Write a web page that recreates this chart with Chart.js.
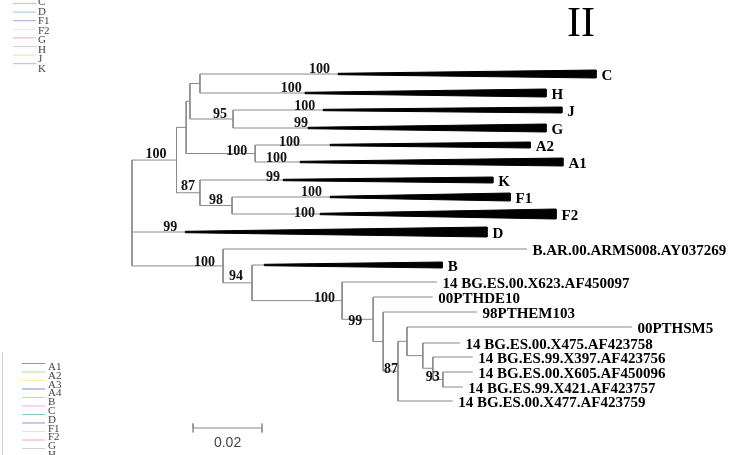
<!DOCTYPE html>
<html>
<head>
<meta charset="utf-8">
<script src="https://cdn.jsdelivr.net/npm/chart.js@4.4.1/dist/chart.umd.min.js"></script>
<style>
  html, body { margin: 0; padding: 0; background: #fff; }
  canvas { display: block; }
</style>
</head>
<body>
<canvas id="tree" width="740" height="455"></canvas>
<script>
// tips, top to bottom
const tipNames = [
  "C", "H", "J", "G", "A2", "A1", "K", "F1", "F2", "D",
  "B.AR.00.ARMS008.AY037269", "B",
  "14 BG.ES.00.X623.AF450097", "00PTHDE10", "98PTHEM103", "00PTHSM5",
  "14 BG.ES.00.X475.AF423758", "14 BG.ES.99.X397.AF423756",
  "14 BG.ES.00.X605.AF450096", "14 BG.ES.99.X421.AF423757",
  "14 BG.ES.00.X477.AF423759",
];
const tipDepth = [
  0.1345, 0.1200, 0.1246, 0.1200, 0.1154, 0.1249, 0.1046, 0.1096, 0.1229, 0.1029,
  0.1145, 0.0899,
  0.0884, 0.0872, 0.1000, 0.1449,
  0.0951, 0.0988, 0.0988, 0.0959, 0.0930,
];
// where the collapsed clade wedge begins (null = single sequence)
const wedgeStart = [
  0.0597, 0.0501, 0.0554, 0.0510, 0.0574, 0.0487, 0.0438, 0.0574, 0.0545, 0.0154,
  null, 0.0383,
  null, null, null, null, null, null, null, null, null,
];
const tipRow = [74, 93, 110, 128, 145, 162, 180, 197, 214, 232, 249, 265, 282, 297, 312, 327, 343, 357, 372, 387, 401];
const tipSupport = [100, 100, 100, 99, 100, 100, 99, 100, 100, 99, null, null, null, null, null, null, null, null, null, null, null];

// internal nodes
const nodeNames = ["R", "U", "P", "Q", "CH", "JG", "A", "KF", "F", "L", "BB", "N1", "N2", "N3", "N4", "N5", "N6", "N7", "N8"];
const nodeDepth = [0, 0.0129, 0.0157, 0.0168, 0.0197, 0.0293, 0.0357, 0.0197, 0.0290, 0.0264, 0.0348, 0.0609, 0.0699, 0.0728, 0.0771, 0.0797, 0.0843, 0.0872, 0.0901];
const nodeChildren = [
  ["U", "D", "L"],
  ["P", "KF"],
  ["Q", "A"],
  ["CH", "JG"],
  ["C", "H"],
  ["J", "G"],
  ["A2", "A1"],
  ["K", "F"],
  ["F1", "F2"],
  ["B.AR.00.ARMS008.AY037269", "BB"],
  ["B", "N1"],
  ["14 BG.ES.00.X623.AF450097", "N2"],
  ["00PTHDE10", "N3"],
  ["98PTHEM103", "N4"],
  ["N5", "14 BG.ES.00.X477.AF423759"],
  ["00PTHSM5", "N6"],
  ["14 BG.ES.00.X475.AF423758", "N7"],
  ["14 BG.ES.99.X397.AF423756", "N8"],
  ["14 BG.ES.00.X605.AF450096", "14 BG.ES.99.X421.AF423757"],
];
const nodeSupport = [null, 100, null, null, null, 95, 100, 87, 98, 100, 94, 100, 99, null, 87, null, null, null, 93];

const scaleBarLength = 0.02;
const scaleBarText = "0.02";
const panelText = "II";

const topLegendLabels = ["C", "D", "F1", "F2", "G", "H", "J", "K"];
const topLegendColors = ["#f2a6e6", "#8fd3d3", "#a8a6d8", "#e6e6ea", "#f2a8bc", "#d8cce6", "#dce8a8", "#d8a4e2"];
const bottomLegendLabels = ["A1", "A2", "A3", "A4", "B", "C", "D", "F1", "F2", "G", "H"];
const bottomLegendColors = ["#9a8ea2", "#a8dca0", "#f2f0a2", "#8484dc", "#a6eea6", "#eea6ee", "#86c8c8", "#9494d4", "#e2e2e2", "#f0a8a8", "#d2d2d2"];

// layout / style
const wedgeHeight = { C: 8, H: 8, J: 6, G: 8, A2: 6, A1: 8, K: 6, F1: 8, F2: 10, D: 10, B: 6 };
const wedgeNeck = 0.7;
const supportNudge = {
  U: [-5, -1], JG: [-1, 0], A: [-3, 2], KF: [0, -2], F: [-4, -1], L: [-3, 1], BB: [-4, -2],
  N1: [-2, 2], N2: [-6, 7], N4: [5, 3], N8: [2, 2],
  C: [-3, 0], H: [2, 0], J: [-3, 1], G: [5, 0], A2: [-25, 2], A1: [-8, 1], K: [2, 2],
  F1: [-3, 0], F2: [0, 4], D: [-3, 0],
};
const scaleBarStart = 0.0177;
const scaleBarRow = 428;
const branchColor = "#8a8a8a";
const serif = "'Liberation Serif', 'Times New Roman', serif";

function isTip(name) {
  return tipNames.indexOf(name) >= 0;
}

function rowOf(name) {
  if (isTip(name)) return tipRow[tipNames.indexOf(name)];
  const kids = nodeChildren[nodeNames.indexOf(name)];
  return (rowOf(kids[0]) + rowOf(kids[kids.length - 1])) / 2;
}

// x where the branch leading to a child stops
function leadOf(name) {
  if (isTip(name)) {
    const i = tipNames.indexOf(name);
    return wedgeStart[i] !== null ? wedgeStart[i] : tipDepth[i];
  }
  return nodeDepth[nodeNames.indexOf(name)];
}

function buildDatasets() {
  const sets = [];
  const line = (pts) => ({
    data: pts,
    showLine: true,
    borderColor: branchColor,
    borderWidth: 1,
    pointRadius: 0,
    fill: false,
    tension: 0,
  });

  nodeNames.forEach((n, i) => {
    const kids = nodeChildren[i];
    const d = nodeDepth[i];
    const first = kids[0];
    const last = kids[kids.length - 1];
    sets.push(line([
      { x: leadOf(first), y: rowOf(first) },
      { x: d, y: rowOf(first) },
      { x: d, y: rowOf(last) },
      { x: leadOf(last), y: rowOf(last) },
    ]));
    kids.slice(1, -1).forEach((k) => {
      sets.push(line([{ x: d, y: rowOf(k) }, { x: leadOf(k), y: rowOf(k) }]));
    });
  });

  tipNames.forEach((t, i) => {
    if (wedgeStart[i] === null) return;
    const y = tipRow[i];
    const h = wedgeHeight[t] / 2;
    sets.push({
      data: [
        { x: wedgeStart[i], y: y - wedgeNeck },
        { x: tipDepth[i], y: y - h },
        { x: tipDepth[i], y: y + h },
        { x: wedgeStart[i], y: y + wedgeNeck },
        { x: wedgeStart[i], y: y - wedgeNeck },
      ],
      showLine: true,
      borderColor: "#000",
      backgroundColor: "#000",
      borderWidth: 1,
      pointRadius: 0,
      fill: "shape",
      tension: 0,
    });
  });

  const s0 = scaleBarStart;
  const s1 = scaleBarStart + scaleBarLength;
  const r = scaleBarRow;
  sets.push(line([
    { x: s0, y: r - 4.5 }, { x: s0, y: r + 4.5 }, { x: s0, y: r },
    { x: s1, y: r }, { x: s1, y: r - 4.5 }, { x: s1, y: r + 4.5 },
  ]));
  return sets;
}

const labelsPlugin = {
  id: "treeLabels",
  afterDatasetsDraw(chart) {
    const { ctx } = chart;
    const xs = chart.scales.x;
    const ys = chart.scales.y;
    ctx.save();

    // tip names
    ctx.fillStyle = "#000";
    ctx.font = "bold 15px " + serif;
    ctx.textAlign = "left";
    ctx.textBaseline = "alphabetic";
    tipNames.forEach((t, i) => {
      ctx.fillText(t, xs.getPixelForValue(tipDepth[i]) + 5.5, ys.getPixelForValue(tipRow[i]) + 6);
    });

    // bootstrap values
    ctx.font = "bold 14px " + serif;
    ctx.fillStyle = "#111";
    ctx.textAlign = "right";
    const support = (key, val, x, y) => {
      if (val === null) return;
      const nudge = supportNudge[key] || [0, 0];
      ctx.fillText(String(val), xs.getPixelForValue(x) - 5 + nudge[0], ys.getPixelForValue(y) - 1 + nudge[1]);
    };
    nodeNames.forEach((n, i) => support(n, nodeSupport[i], nodeDepth[i], rowOf(n)));
    tipNames.forEach((t, i) => support(t, tipSupport[i], leadOf(t), tipRow[i]));

    // scale bar text
    ctx.font = "14px 'Liberation Sans', Arial, sans-serif";
    ctx.fillStyle = "#444";
    ctx.textAlign = "center";
    ctx.fillText(scaleBarText, xs.getPixelForValue(scaleBarStart + scaleBarLength / 2), ys.getPixelForValue(scaleBarRow) + 19);

    // panel label
    ctx.font = "42px " + serif;
    ctx.fillStyle = "#000";
    ctx.fillText(panelText, 581, 36);

    // leftover legends
    ctx.lineWidth = 1;
    ctx.textAlign = "left";
    ctx.font = "11px " + serif;
    topLegendLabels.forEach((lab, i) => {
      const y = 3.5 + i * 8.6;
      ctx.strokeStyle = topLegendColors[i];
      ctx.beginPath();
      ctx.moveTo(13, y);
      ctx.lineTo(36, y);
      ctx.stroke();
      ctx.fillStyle = "#444";
      ctx.fillText(lab, 38, 5 + i * 9.5);
    });
    bottomLegendLabels.forEach((lab, i) => {
      const y = 363.5 + i * 8.5;
      ctx.strokeStyle = bottomLegendColors[i];
      ctx.beginPath();
      ctx.moveTo(22, y);
      ctx.lineTo(45, y);
      ctx.stroke();
      ctx.fillStyle = "#444";
      ctx.fillText(lab, 48, 370 + i * 8.8);
    });
    ctx.strokeStyle = "#cfcfcf";
    ctx.beginPath();
    ctx.moveTo(2.5, 352);
    ctx.lineTo(2.5, 455);
    ctx.stroke();

    ctx.restore();
  },
};

new Chart(document.getElementById("tree"), {
  type: "scatter",
  data: { datasets: buildDatasets() },
  options: {
    responsive: false,
    animation: false,
    devicePixelRatio: 1,
    layout: { padding: 0 },
    plugins: { legend: { display: false }, tooltip: { enabled: false } },
    scales: {
      x: { type: "linear", min: -0.03826, max: 0.17623, display: false },
      y: { type: "linear", min: 0, max: 455, reverse: true, display: false },
    },
  },
  plugins: [labelsPlugin],
});
</script>
</body>
</html>
